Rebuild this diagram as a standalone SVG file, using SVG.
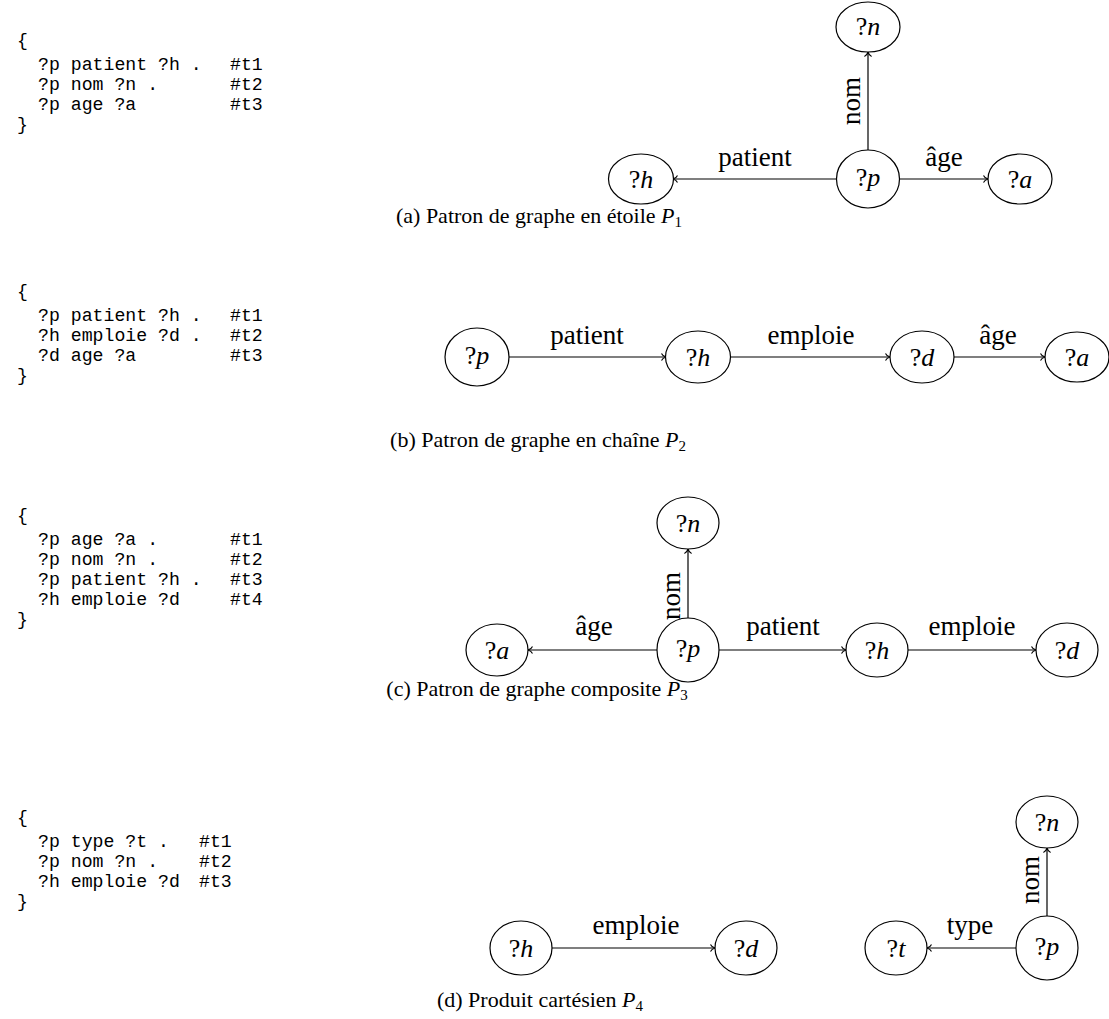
<svg xmlns="http://www.w3.org/2000/svg" width="1109" height="1019" viewBox="0 0 1109 1019">
  <defs>
    <style>
      .code { font-family: "Liberation Mono", "DejaVu Sans Mono", monospace; font-size: 18.2px; fill: #000; }
      .lbl { font-family: "Liberation Serif", "DejaVu Serif", serif; font-size: 27px; fill: #000; }
      .cap { font-family: "Liberation Serif", "DejaVu Serif", serif; font-size: 22px; fill: #000; }
      .node ellipse { fill: #fff; stroke: #000; stroke-width: 1.2; }
      .node text { font-family: "Liberation Serif", "DejaVu Serif", serif; font-size: 26px; text-anchor: middle; fill: #000; }
      .it { font-style: italic; }
      .edges line { stroke: #000; stroke-width: 1.2; marker-end: url(#to); }
      .mid { text-anchor: middle; }
    </style>
    <marker id="to" viewBox="-6 -5 7 10" refX="0" refY="0" markerWidth="7" markerHeight="10" orient="auto" markerUnits="userSpaceOnUse">
      <path d="M-4.5,-3.6 C-3.6,-1.6 -1.4,-0.4 0,0 C-1.4,0.4 -3.6,1.6 -4.5,3.6" fill="none" stroke="#000" stroke-width="1.1"/>
    </marker>
  </defs>

  <!-- ===== (a) star pattern ===== -->
  <g id="code-a" class="code">
    <text x="17" y="46">{</text>
    <text x="38" y="70">?p patient ?h .</text><text x="230" y="70">#t1</text>
    <text x="38" y="90">?p nom ?n .</text><text x="230" y="90">#t2</text>
    <text x="38" y="110">?p age ?a</text><text x="230" y="110">#t3</text>
    <text x="17" y="130">}</text>
  </g>

  <g id="edges-a" class="edges">
    <line x1="837" y1="179" x2="673" y2="179"/>
    <line x1="900" y1="179" x2="988" y2="179"/>
    <line x1="868" y1="150" x2="868" y2="52"/>
  </g>
  <g id="edge-labels-a" class="lbl">
    <text class="mid" x="755" y="166">patient</text>
    <text class="mid" x="944" y="166">âge</text>
    <text class="mid" transform="translate(860,101) rotate(-90)">nom</text>
  </g>
  <g id="a-n" class="node"><ellipse cx="868" cy="27" rx="32" ry="25"/><text x="868" y="35">?<tspan class="it">n</tspan></text></g>
  <g id="a-p" class="node"><ellipse cx="868" cy="179" rx="31.5" ry="29"/><text x="868" y="186">?<tspan class="it">p</tspan></text></g>
  <g id="a-h" class="node"><ellipse cx="641" cy="179" rx="32.5" ry="25"/><text x="641" y="188">?<tspan class="it">h</tspan></text></g>
  <g id="a-a" class="node"><ellipse cx="1020" cy="179" rx="32" ry="25"/><text x="1020" y="188">?<tspan class="it">a</tspan></text></g>
  <text class="cap mid" x="539" y="223">(a) Patron de graphe en étoile <tspan class="it">P</tspan><tspan font-size="15" dy="4">1</tspan></text>

  <!-- ===== (b) chain pattern ===== -->
  <g id="code-b" class="code">
    <text x="17" y="297">{</text>
    <text x="38" y="321">?p patient ?h .</text><text x="230" y="321">#t1</text>
    <text x="38" y="341">?h emploie ?d .</text><text x="230" y="341">#t2</text>
    <text x="38" y="361">?d age ?a</text><text x="230" y="361">#t3</text>
    <text x="17" y="381">}</text>
  </g>

  <g id="edges-b" class="edges">
    <line x1="509" y1="357" x2="666" y2="357"/>
    <line x1="731" y1="357" x2="890" y2="357"/>
    <line x1="954" y1="357" x2="1045" y2="357"/>
  </g>
  <g id="edge-labels-b" class="lbl">
    <text class="mid" x="587" y="344">patient</text>
    <text class="mid" x="811" y="344">emploie</text>
    <text class="mid" x="998" y="344">âge</text>
  </g>
  <g id="b-p" class="node"><ellipse cx="477" cy="357" rx="32" ry="29"/><text x="477" y="364">?<tspan class="it">p</tspan></text></g>
  <g id="b-h" class="node"><ellipse cx="698" cy="357" rx="32.5" ry="26"/><text x="698" y="366">?<tspan class="it">h</tspan></text></g>
  <g id="b-d" class="node"><ellipse cx="922" cy="357" rx="32" ry="26"/><text x="922" y="366">?<tspan class="it">d</tspan></text></g>
  <g id="b-a" class="node"><ellipse cx="1077" cy="357" rx="32" ry="25"/><text x="1077" y="366">?<tspan class="it">a</tspan></text></g>
  <text class="cap mid" x="538" y="447">(b) Patron de graphe en chaîne <tspan class="it">P</tspan><tspan font-size="15" dy="4">2</tspan></text>

  <!-- ===== (c) composite pattern ===== -->
  <g id="code-c" class="code">
    <text x="17" y="521">{</text>
    <text x="38" y="545">?p age ?a .</text><text x="230" y="545">#t1</text>
    <text x="38" y="565">?p nom ?n .</text><text x="230" y="565">#t2</text>
    <text x="38" y="585">?p patient ?h .</text><text x="230" y="585">#t3</text>
    <text x="38" y="605">?h emploie ?d</text><text x="230" y="605">#t4</text>
    <text x="17" y="625">}</text>
  </g>

  <g id="edges-c" class="edges">
    <line x1="657" y1="650" x2="528" y2="650"/>
    <line x1="719" y1="650" x2="846" y2="650"/>
    <line x1="908" y1="650" x2="1036" y2="650"/>
    <line x1="688" y1="618" x2="688" y2="549"/>
  </g>
  <g id="edge-labels-c" class="lbl">
    <text class="mid" x="594" y="635">âge</text>
    <text class="mid" x="783" y="635">patient</text>
    <text class="mid" x="972" y="635">emploie</text>
    <text class="mid" transform="translate(680,596) rotate(-90)">nom</text>
  </g>
  <g id="c-n" class="node"><ellipse cx="688" cy="523" rx="31" ry="26"/><text x="688" y="532">?<tspan class="it">n</tspan></text></g>
  <g id="c-a" class="node"><ellipse cx="497" cy="650" rx="31" ry="26"/><text x="497" y="659">?<tspan class="it">a</tspan></text></g>
  <g id="c-p" class="node"><ellipse cx="688" cy="650" rx="31" ry="32"/><text x="688" y="657">?<tspan class="it">p</tspan></text></g>
  <g id="c-h" class="node"><ellipse cx="877" cy="650" rx="31" ry="27"/><text x="877" y="659">?<tspan class="it">h</tspan></text></g>
  <g id="c-d" class="node"><ellipse cx="1067" cy="650" rx="31" ry="27"/><text x="1067" y="659">?<tspan class="it">d</tspan></text></g>
  <text class="cap mid" x="537" y="696">(c) Patron de graphe composite <tspan class="it">P</tspan><tspan font-size="15" dy="4">3</tspan></text>

  <!-- ===== (d) cartesian product ===== -->
  <g id="code-d" class="code">
    <text x="17" y="823">{</text>
    <text x="38" y="847">?p type ?t .</text><text x="199" y="847">#t1</text>
    <text x="38" y="867">?p nom ?n .</text><text x="199" y="867">#t2</text>
    <text x="38" y="887">?h emploie ?d</text><text x="199" y="887">#t3</text>
    <text x="17" y="907">}</text>
  </g>

  <g id="edges-d" class="edges">
    <line x1="552" y1="948" x2="715" y2="948"/>
    <line x1="1016" y1="948" x2="927" y2="948"/>
    <line x1="1047" y1="917" x2="1047" y2="848"/>
  </g>
  <g id="edge-labels-d" class="lbl">
    <text class="mid" x="636" y="934">emploie</text>
    <text class="mid" x="970" y="934">type</text>
    <text class="mid" transform="translate(1039,880) rotate(-90)">nom</text>
  </g>
  <g id="d-h" class="node"><ellipse cx="521" cy="948" rx="31" ry="27"/><text x="521" y="957">?<tspan class="it">h</tspan></text></g>
  <g id="d-d" class="node"><ellipse cx="746" cy="948" rx="31" ry="27"/><text x="746" y="957">?<tspan class="it">d</tspan></text></g>
  <g id="d-t" class="node"><ellipse cx="896" cy="948" rx="31" ry="27"/><text x="896" y="957">?<tspan class="it">t</tspan></text></g>
  <g id="d-p" class="node"><ellipse cx="1047" cy="948" rx="31" ry="32"/><text x="1047" y="955">?<tspan class="it">p</tspan></text></g>
  <g id="d-n" class="node"><ellipse cx="1047" cy="822" rx="31" ry="26"/><text x="1047" y="831">?<tspan class="it">n</tspan></text></g>
  <text class="cap mid" x="540" y="1007">(d) Produit cartésien <tspan class="it">P</tspan><tspan font-size="15" dy="4">4</tspan></text>
</svg>
